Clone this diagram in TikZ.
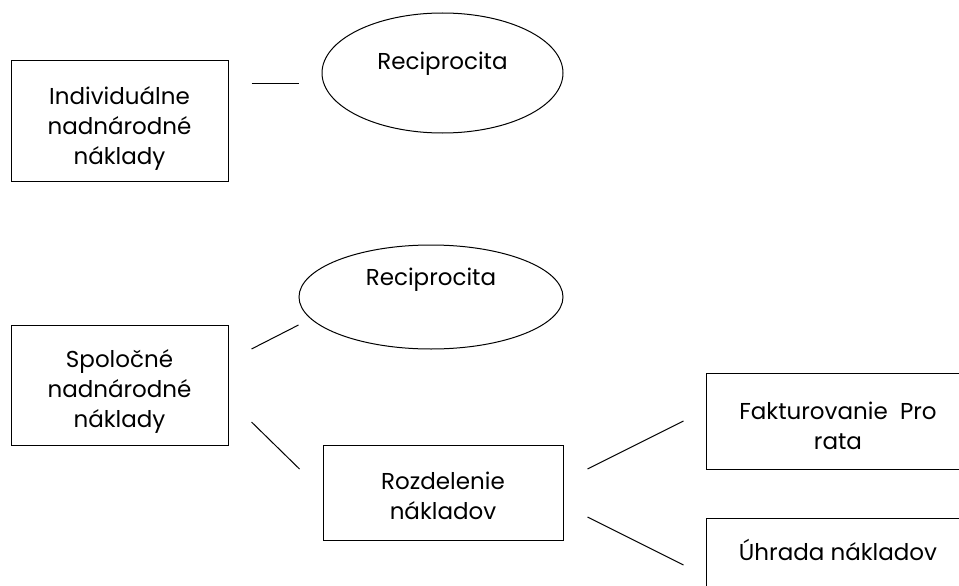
\documentclass[tikz,border=0pt]{standalone}
\usepackage{fontspec}
\setmainfont{Poppins}
\usetikzlibrary{shapes.geometric,calc}

\begin{document}
\begin{tikzpicture}[
    x=1pt, y=-1pt,
    box/.style={rectangle, draw, line width=1pt, minimum width=#1, align=center, inner sep=0pt},
    oval/.style={ellipse, draw, line width=1pt, inner sep=0pt},
    lbl/.style={font=\fontsize{23}{30}\selectfont, align=center, inner sep=0pt},
    link/.style={line width=1pt},
]
\useasboundingbox (0,0) rectangle (959,586);

% === TOP: Individual costs ===
\node[box=217pt, minimum height=120pt] (ind) at (119.5,121) {};
\node[lbl] at ([yshift=-7pt]ind.center) {Individuálne\\nadnárodné\\náklady};
\node[oval, minimum width=241pt, minimum height=120pt] (rec1) at (442.5,73) {};
\node[lbl] at ([yshift=9pt]rec1.center) {Reciprocita};
\draw[link] ([shift={(23,-37)}]ind.east) -- ([shift={(-23,11)}]rec1.west);

% === BOTTOM: Common costs ===
\node[box=217pt, minimum height=120pt] (spol) at (119.5,385) {};
\node[lbl] at ([yshift=-6pt]spol.center) {Spoločné\\nadnárodné\\náklady};
\node[oval, minimum width=264pt, minimum height=104pt] (rec2) at (431,297) {};
\node[lbl] at ([yshift=17pt]rec2.center) {Reciprocita};
\draw[link] ([shift={(23,-36)}]spol.east) -- ([shift={(0,28)}]rec2.west);

% Cost split
\node[box=240pt, minimum height=95pt] (rozd) at (443,492.5) {};
\node[lbl] at ([yshift=-3pt]rozd.center) {Rozdelenie\\nákladov};
\draw[link] ([shift={(23,37)}]spol.east) -- ([shift={(-23,-23.5)}]rozd.west);

% Invoicing / reimbursement
\node[box=264pt, minimum height=96pt] (fakt) at (838,421) {};
\node[lbl] at ([yshift=-5pt]fakt.center) {Fakturovanie~~Pro\\rata};
\node[box=264pt, minimum height=96pt] (uhr) at (838,566) {};
\node[lbl] at ([yshift=16pt]uhr.center) {Úhrada nákladov};
\draw[link] ([shift={(24,-23.5)}]rozd.east) -- ([shift={(-22,0)}]fakt.west);
\draw[link] ([shift={(24,24.5)}]rozd.east) -- ([shift={(-22,-1)}]uhr.west);
\end{tikzpicture}
\end{document}
